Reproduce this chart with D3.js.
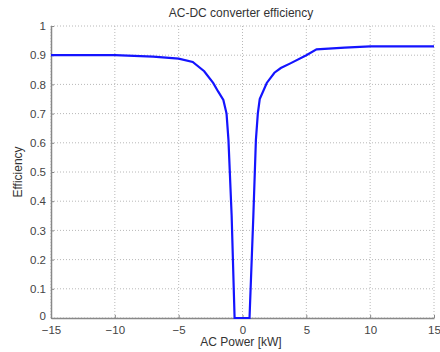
<!DOCTYPE html>
<html>
<head>
<meta charset="utf-8">
<script src="https://cdn.jsdelivr.net/npm/d3@7"></script>
<style>
  body { margin: 0; background: #fff; }
  svg { font-family: Arial, "Liberation Sans", sans-serif; }
</style>
</head>
<body>
<svg width="440" height="352"></svg>
<script>
// AC power [kW] and converter efficiency
const powerKW = [-15, -10, -7, -5, -3.9, -3, -2.3, -1.9, -1.5, -1.25, -1.1, -0.85, -0.62,
                 0.55, 0.85, 1.05, 1.2, 1.35, 1.9, 2.5, 3, 3.75, 5, 5.8, 8, 10, 15];
const efficiency = [0.9, 0.9, 0.895, 0.888, 0.877, 0.845, 0.805, 0.775, 0.747, 0.7, 0.61, 0.35, 0,
                    0, 0.35, 0.61, 0.7, 0.75, 0.805, 0.84, 0.856, 0.872, 0.9, 0.92, 0.926, 0.93, 0.93];
const xTicks = [-15, -10, -5, 0, 5, 10, 15];
const yTicks = [0, 0.1, 0.2, 0.3, 0.4, 0.5, 0.6, 0.7, 0.8, 0.9, 1];

const svg = d3.select("svg");
const margin = { left: 51, right: 6, top: 26, bottom: 34 };
const width = 440 - margin.left - margin.right;
const height = 352 - margin.top - margin.bottom;

const x = d3.scaleLinear().domain([-15, 15]).range([0, width]);
const y = d3.scaleLinear().domain([0, 1]).range([height, 0]);

const g = svg.append("g").attr("transform", `translate(${margin.left},${margin.top})`);

// grid
g.selectAll(".gx").data(xTicks).enter().append("line")
  .attr("x1", (d) => x(d)).attr("x2", (d) => x(d))
  .attr("y1", 0).attr("y2", height)
  .attr("stroke", "#b8b8b8").attr("stroke-width", 1).attr("stroke-dasharray", "1,2");
g.selectAll(".gy").data(yTicks).enter().append("line")
  .attr("x1", 0).attr("x2", width)
  .attr("y1", (d) => y(d)).attr("y2", (d) => y(d))
  .attr("stroke", "#b8b8b8").attr("stroke-width", 1).attr("stroke-dasharray", "1,2");

// axes
const xAxis = g.append("g").attr("transform", `translate(0,${height})`)
  .call(d3.axisBottom(x).tickValues(xTicks).tickSizeInner(-3).tickSizeOuter(0).tickPadding(6));
const yAxis = g.append("g")
  .call(d3.axisLeft(y).tickValues(yTicks).tickFormat(d3.format("~g")).tickSizeInner(-3).tickSizeOuter(0).tickPadding(5));

[xAxis, yAxis].forEach((a) => {
  a.select(".domain").attr("stroke", "#888").attr("stroke-width", 1.5);
  a.selectAll(".tick line").attr("stroke", "#888");
  a.selectAll(".tick text").attr("fill", "#444").attr("font-size", 11.5);
});
xAxis.selectAll(".tick text").attr("dy", "0.85em");
yAxis.selectAll(".tick text").filter((d) => d === 0).attr("dy", "0.1em");

// curve
const line = d3.line().x((d, i) => x(powerKW[i])).y((d) => y(d));
g.append("path")
  .datum(efficiency)
  .attr("d", line)
  .attr("fill", "none")
  .attr("stroke", "#1414ff")
  .attr("stroke-width", 2.2);

// labels
svg.append("text").attr("x", 241).attr("y", 17).attr("text-anchor", "middle")
  .attr("font-size", 12).attr("fill", "#333").text("AC-DC converter efficiency");
svg.append("text").attr("x", 241).attr("y", 346).attr("text-anchor", "middle")
  .attr("font-size", 12).attr("fill", "#333").text("AC Power [kW]");
svg.append("text").attr("transform", "translate(22,172) rotate(-90)").attr("text-anchor", "middle")
  .attr("font-size", 12).attr("fill", "#333").text("Efficiency");
</script>
</body>
</html>
